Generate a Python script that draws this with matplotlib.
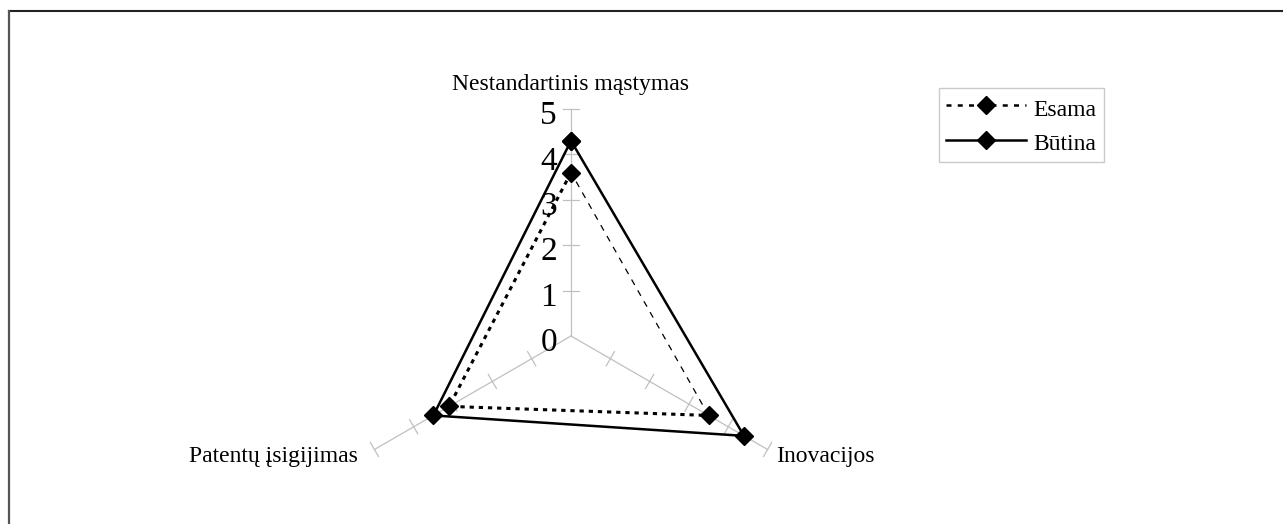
import numpy as np
import matplotlib
matplotlib.use("Agg")
import matplotlib.pyplot as plt
from matplotlib.lines import Line2D

plt.rcParams['font.family'] = ['Liberation Serif', 'DejaVu Serif']

categories = ["Nestandartinis mąstymas", "Inovacijos", "Patentų įsigijimas"]
esama = [3.6, 3.5, 3.1]
butina = [4.3, 4.4, 3.5]
r_ticks = [0, 1, 2, 3, 4, 5]
series_names = ["Esama", "Būtina"]

W, H = 1283, 524
fig = plt.figure(figsize=(W / 100, H / 100), dpi=100)

cx, cy, R = 571, 336, 227  # pixel center and radius for value 5
ax = fig.add_axes([(cx - R) / W, (H - cy - R) / H, 2 * R / W, 2 * R / H], projection='polar')
ax.set_theta_offset(np.pi / 2)
ax.set_theta_direction(-1)
ax.set_ylim(0, 5)
ax.set_axis_off()

n = len(categories)
theta = np.arange(n) * 2 * np.pi / n

# spokes and ticks
grey = '#c0c0c0'
h = 0.18
for t in theta:
    ax.plot([t, t], [0, 5], color=grey, lw=0.9, clip_on=False, zorder=1)
    for r in r_ticks[1:]:
        d = np.arctan(h / r)
        rr = np.hypot(r, h)
        ax.plot([t - d, t + d], [rr, rr], color=grey, lw=0.9, clip_on=False, zorder=1)

# radial labels
for r in r_ticks:
    ax.annotate(str(r), xy=(0, r), xytext=(-10, -5), textcoords='offset points',
                ha='right', va='center', fontsize=24, annotation_clip=False)

# category labels
ax.annotate(categories[0], xy=(theta[0], 5), xytext=(0, 17.5), textcoords='offset points',
            ha='center', va='center', fontsize=17, annotation_clip=False)
ax.annotate(categories[1], xy=(theta[1], 5), xytext=(6, -5), textcoords='offset points',
            ha='left', va='center', fontsize=17, annotation_clip=False)
ax.annotate(categories[2], xy=(theta[2], 5), xytext=(-12, -5), textcoords='offset points',
            ha='right', va='center', fontsize=17, annotation_clip=False)

th = np.array(theta)
e = np.array(esama)
b = np.array(butina)

# Būtina: solid
ax.plot(np.append(th, th[0]), np.append(b, b[0]), color='black', lw=1.8,
        marker='D', markersize=9, clip_on=False, zorder=3)
# Esama: dotted (top -> left -> right) and thin dashed (right -> top)
order = [0, 2, 1]
ax.plot(th[order], e[order], color='black', lw=2.2, linestyle=(0, (1.4, 1.6)),
        marker='D', markersize=9, clip_on=False, zorder=4)
ax.plot(th[[1, 0]], e[[1, 0]], color='black', lw=0.9, linestyle=(0, (5, 5)),
        clip_on=False, zorder=4)

handles = [
    Line2D([], [], color='black', lw=1.8, linestyle=(0, (2, 2.5)), marker='D', markersize=9),
    Line2D([], [], color='black', lw=1.8, marker='D', markersize=9),
]
leg = fig.legend(handles, series_names, loc='upper left',
                 bbox_to_anchor=(939 / W, 1 - 88 / H), fontsize=17,
                 handlelength=3.4, handleheight=1.3, frameon=True, fancybox=False,
                 borderpad=0.3, labelspacing=0.35, handletextpad=0.3, borderaxespad=0)
leg.get_frame().set_edgecolor('#bdbdbd')
leg.get_frame().set_linewidth(1.0)

# outer frame (partially cut)
fig.add_artist(Line2D([8.5 / W, 1.01], [1 - 11 / H, 1 - 11 / H], transform=fig.transFigure,
                      color='#222222', lw=1.5))
fig.add_artist(Line2D([8.5 / W, 8.5 / W], [1 - 11 / H, -0.01], transform=fig.transFigure,
                      color='#555555', lw=1.6))

fig.savefig('out.png', dpi=100)
